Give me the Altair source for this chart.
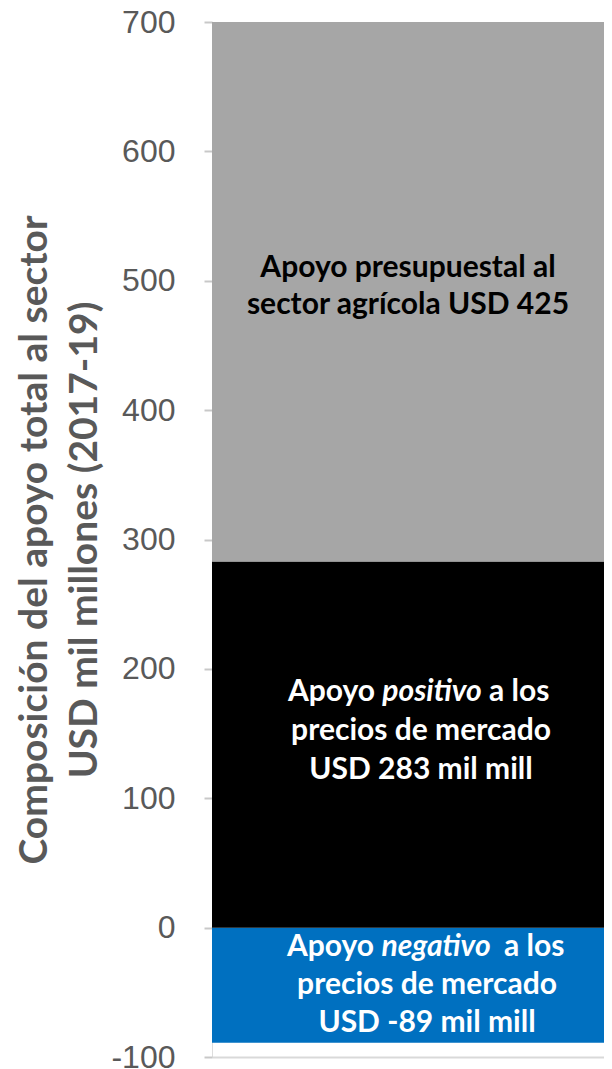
import altair as alt
import pandas as pd

# ---- data ----
segments = ["negativo", "positivo", "presupuestal"]
values = [-89, 283, 425]
colors = ["#0070c0", "#000000", "#a6a6a6"]
y_ticks = [-100, 0, 100, 200, 300, 400, 500, 600, 700]
axis_title = ["Composición del apoyo total al sector", "USD mil millones (2017-19)"]

budget_lines = ["Apoyo presupuestal al", "sector agrícola  USD 425"]
pos_line1 = ["Apoyo", "positivo", "a los"]
pos_lines = ["precios de mercado", "USD 283 mil mill"]
neg_line1 = ["Apoyo", "negativo", "a los"]
neg_lines = ["precios de mercado", "USD -89 mil mill"]

# stacking: negatives go down from zero, positives stack upward
starts, ends = [], []
top = 0
for v in values:
    if v < 0:
        starts.append(0)
        ends.append(v)
    else:
        starts.append(top)
        ends.append(top + v)
        top += v

df = pd.DataFrame({"segment": segments, "start": starts, "end": ends})
df["bar"] = "total"
df["mid"] = (df["start"] + df["end"]) / 2

W, H = 392, 1035
FONT = "Lato"
LFS = 30

xenc = alt.X("bar:N", axis=alt.Axis(title=None, labels=False, ticks=False, domain=True,
                                    domainColor="#d9d9d9", domainWidth=2),
             scale=alt.Scale(paddingInner=0, paddingOuter=0))

bars = alt.Chart(df).mark_bar(clip=True).encode(
    x=xenc,
    y=alt.Y("start:Q",
            scale=alt.Scale(domain=[-100, 700], nice=False, zero=False),
            axis=alt.Axis(values=y_ticks, title=axis_title, grid=False, domain=False,
                          labelExpr="'' + datum.value",
                          tickColor="#c8c8c8", tickSize=8, tickWidth=2,
                          labelFont="Liberation Sans", labelFontSize=32, labelColor="#595959",
                          labelPadding=29,
                          titleFont=FONT, titleFontSize=39, titleFontWeight="bold",
                          titleColor="#595959", titleLineHeight=50,
                          titleAngle=-90, titleBaseline="top", titleAlign="center",
                          titleX=-197, titleY=H / 2)),
    y2="end:Q",
    color=alt.Color("segment:N", scale=alt.Scale(domain=segments, range=colors), legend=None),
)


def label(seg, text, color, dx, dy, align="center", italic=False):
    d = df[df["segment"] == seg].copy()
    d["txt"] = text
    return alt.Chart(d).mark_text(
        font=FONT, fontSize=LFS, fontWeight="bold", fontStyle="italic" if italic else "normal",
        color=color, align=align, baseline="middle", dx=dx, dy=dy,
    ).encode(x=alt.X("bar:N"), y=alt.Y("mid:Q"), text="txt:N")


layers = [bars]
# budget segment
layers.append(label("presupuestal", budget_lines[0], "#000000", 0, -19))
layers.append(label("presupuestal", budget_lines[1], "#000000", 0, 18))
# positive
layers.append(label("positivo", pos_line1[0], "#ffffff", -33, -53, align="right"))
layers.append(label("positivo", pos_line1[1], "#ffffff", 24, -53, italic=True))
layers.append(label("positivo", pos_line1[2], "#ffffff", 81, -53, align="left"))
layers.append(label("positivo", pos_lines[0], "#ffffff", 13, -14))
layers.append(label("positivo", pos_lines[1], "#ffffff", 13, 25))
# negative
layers.append(label("negativo", neg_line1[0], "#ffffff", -34, -38, align="right"))
layers.append(label("negativo", neg_line1[1], "#ffffff", 28, -38, italic=True))
layers.append(label("negativo", neg_line1[2], "#ffffff", 96, -38, align="left"))
layers.append(label("negativo", neg_lines[0], "#ffffff", 19, 0))
layers.append(label("negativo", neg_lines[1], "#ffffff", 19, 38))

chart = alt.layer(*layers).properties(
    width=W, height=H,
    autosize=alt.AutoSizeParams(type="none"),
    padding={"left": 204, "top": 14, "right": 0, "bottom": 12},
).configure_view(stroke=None).configure(background="#ffffff")

chart.save("out.html", embed_options={"renderer": "svg", "actions": False})
